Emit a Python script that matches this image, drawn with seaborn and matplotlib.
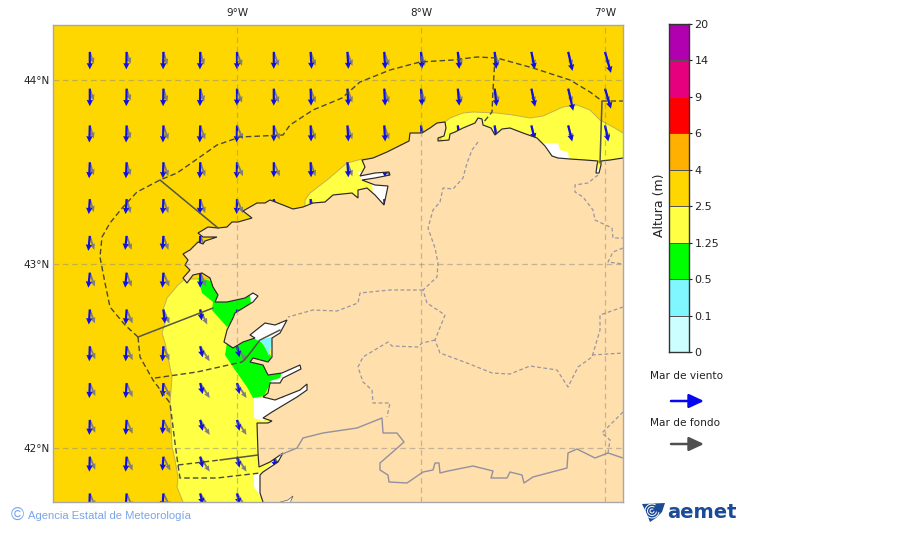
import numpy as np
import pandas as pd
import matplotlib
matplotlib.use("Agg")
import matplotlib.pyplot as plt
from matplotlib.colors import ListedColormap
from matplotlib.patches import Polygon
import seaborn as sns

# ---- data -------------------------------------------------------------
level_labels = ['0', '0.1', '0.5', '1.25', '2.5', '4', '6', '9', '14', '20']
level_colors = ['#CCFFFF', '#80F6FF', '#00FF00', '#FFFF44', '#FFD700',
                '#FFB000', '#FF0000', '#E6007E', '#B000B0']
lon_ticks = [-9, -8, -7]
lon_labels = ['9°W', '8°W', '7°W']
lat_ticks = [42, 43, 44]
lat_labels = ['42°N', '43°N', '44°N']

arrow_lons = [-9.8, -9.6, -9.4, -9.2, -9.0, -8.8, -8.6, -8.4, -8.2, -8.0, -7.8, -7.6, -7.4, -7.2, -7.0]
arrow_lats = [44.15, 43.95, 43.75, 43.55, 43.35, 43.15, 42.95, 42.75, 42.55, 42.35, 42.15, 41.95, 41.75]

# arrow components, digitised map units (184 per degree)
wind_east = [
 [0, -.3, -.3, -.3, 0, 0, 1, 1, 1, 1, 1.5, 1.7, 3.3, 4.3, 6],
 [0, -.3, -.3, -.3, 0, 0, .5, 1, 1, 1, 1.5, 2, 3.7, 5, 6],
 [-.5, -.5, -.5, -.5, -.3, 0, .5, 1, 1, 1, 1.5, 2, 3.3, 4, 3.3],
 [-.7, -.7, -.5, -.5, -.3, 0, .5, 1, 1, 1, 1, 1, 2, 3, 3],
 [-1, -1, -.7, -.5, -.3, 0, .5, 1, 1, 1, 1, 1, 2, 2, 2],
 [-1.5, -1.5, -1, -.7, 0, 0, 1, 1, 1, 1, 1, 1, 1, 1, 1],
 [-1.5, -1.5, -1, 0, 0, 0, 1, 1, 1, 1, 1, 1, 1, 1, 1],
 [-1, -1, 1.5, 1.5, 0, 0, 1, 1, 1, 1, 1, 1, 1, 1, 1],
 [-.5, -1, -1, 2.5, 2.5, 2, 1, 1, 1, 1, 1, 1, 1, 1, 1],
 [-.5, -1, -1, 2.5, 2.5, 2, 1, 1, 1, 1, 1, 1, 1, 1, 1],
 [-.5, -1, -1, 2.5, 2.5, 2, 1, 1, 1, 1, 1, 1, 1, 1, 1],
 [-.5, -1, -1, 2.5, 2.5, 2, 1, 1, 1, 1, 1, 1, 1, 1, 1],
 [-.5, -1, -1, 2.5, 2.5, 2, 1, 1, 1, 1, 1, 1, 1, 1, 1],
]
wind_south = [
 [17.5, 17.5, 17.5, 17.5, 17.5, 17, 17, 17, 17, 17, 17, 17, 17.5, 19, 21],
 [17.5, 17.5, 17.5, 17.5, 17, 17, 17, 17, 17, 17, 17, 17.5, 18, 22, 20],
 [17, 17, 17, 17, 17, 16, 16, 16, 16, 16, 16, 16, 14, 16, 16],
 [16, 16, 16, 16, 16, 15, 15, 15, 15, 15, 15, 15, 15, 15, 15],
 [15, 15, 15, 15, 15, 15, 15, 15, 15, 15, 15, 15, 15, 15, 15],
 [15, 14, 14, 15, 15, 15, 15, 15, 15, 15, 15, 15, 15, 15, 15],
 [15, 15, 15, 15, 15, 15, 15, 15, 15, 15, 15, 15, 15, 15, 15],
 [15, 15, 14, 11, 11, 15, 15, 15, 15, 15, 15, 15, 15, 15, 15],
 [15, 15, 15, 11, 11, 11, 15, 15, 15, 15, 15, 15, 15, 15, 15],
 [15, 15, 14, 11, 11, 11, 15, 15, 15, 15, 15, 15, 15, 15, 15],
 [15, 15, 14, 11, 11, 11, 15, 15, 15, 15, 15, 15, 15, 15, 15],
 [15, 15, 14, 11, 11, 11, 15, 15, 15, 15, 15, 15, 15, 15, 15],
 [15, 15, 14, 11, 11, 11, 15, 15, 15, 15, 15, 15, 15, 15, 15],
]
swell_east = [
 [4, 4, 4, 4, 5, 5, 5, 5, 5, 4, 4, 4, 3.5, 4, 4],
 [4, 4, 4, 4, 5, 5, 5, 5, 5, 4, 4, 4, 3.5, 4, 4],
 [4, 4, 5, 5, 6, 6, 5, 5, 5, 4, 4, 4, 3.5, 4, 4],
 [4, 4, 5, 5, 6, 6, 5, 5, 5, 4, 4, 4, 3.5, 4, 4],
 [4, 4, 5, 5, 6, 6, 5, 5, 5, 4, 4, 4, 4, 4, 4],
 [4.5, 5, 5, 6, 6, 6, 5, 5, 5, 4, 4, 4, 4, 4, 4],
 [5, 5, 6, 6, 6, 6, 5, 5, 5, 4, 4, 4, 4, 4, 4],
 [5, 6, 6, 7, 7, 6, 5, 5, 5, 4, 4, 4, 4, 4, 4],
 [5.5, 6, 6, 9.5, 9.5, 9, 5, 5, 5, 4, 4, 4, 4, 4, 4],
 [5.5, 6, 7, 9.5, 9.5, 9.5, 5, 5, 5, 4, 4, 4, 4, 4, 4],
 [5.5, 6, 7, 9.5, 9.5, 9.5, 5, 5, 5, 4, 4, 4, 4, 4, 4],
 [5.5, 6, 7, 9.5, 9.5, 9.5, 5, 5, 5, 4, 4, 4, 4, 4, 4],
 [5.5, 6, 7, 9.5, 9.5, 9.5, 5, 5, 5, 4, 4, 4, 4, 4, 4],
]
swell_south = [
 [12, 12, 13, 13, 14, 14, 14, 14, 14, 14, 14, 14, 14, 14, 14],
 [12, 12, 13, 13, 14, 14, 14, 14, 14, 14, 14, 14, 14, 14, 14],
 [13, 13, 14, 14, 14, 14, 14, 14, 14, 14, 14, 14, 14, 14, 14],
 [13, 13, 14, 14, 14, 14, 14, 14, 14, 14, 14, 14, 14, 14, 14],
 [13, 14, 14, 14, 14, 14, 14, 14, 14, 14, 14, 14, 14, 14, 14],
 [14, 14, 14, 14, 14, 14, 14, 14, 14, 14, 14, 14, 14, 14, 14],
 [14, 14, 14, 14, 14, 14, 14, 14, 14, 14, 14, 14, 14, 14, 14],
 [14, 14, 14, 15, 15, 15, 14, 14, 14, 14, 14, 14, 14, 14, 14],
 [13, 14, 14, 15, 15, 15, 14, 14, 14, 14, 14, 14, 14, 14, 14],
 [13, 14, 14, 15, 15, 15, 14, 14, 14, 14, 14, 14, 14, 14, 14],
 [13, 14, 14, 15, 15, 15, 14, 14, 14, 14, 14, 14, 14, 14, 14],
 [13, 14, 14, 15, 15, 15, 14, 14, 14, 14, 14, 14, 14, 14, 14],
 [13, 14, 14, 15, 15, 15, 14, 14, 14, 14, 14, 14, 14, 14, 14],
]

land = [(640,160),(623,158),(610,160),(601,161),(601,165),(599,173),(596,173),(597,165),(598,161),(585,160),
 (570,159),(558,158),(552,156),(545,146),(537,138),(523,133),(510,128),(502,129),(495,135),(491,128),
 (483,125),(482,119),(478,118),(475,123),(463,128),(455,132),(450,134),(449,140),(438,141),(438,138),
 (444,136),(446,128),(445,122),(437,123),(430,128),(422,133),(410,133),(409,141),(405,143),(387,152),
 (373,158),(362,160),(365,167),(360,176),(375,173),(389,172),(390,175),(375,178),(362,180),(375,185),
 (388,186),(384,205),(375,195),(367,188),(358,190),(358,198),(352,193),(333,195),(325,202),(313,203),
 (303,207),(293,209),(283,205),(270,200),(265,203),(257,203),(243,211),(252,218),(238,222),(232,222),
 (227,227),(218,228),(208,227),(198,233),(203,237),(217,237),(205,241),(203,244),(198,242),(195,245),
 (190,250),(183,254),(188,260),(185,265),(190,270),(183,278),(187,283),(193,275),(202,273),(210,278),
 (213,287),(218,295),(215,302),(227,302),(245,298),(253,293),(258,296),(253,302),(235,313),(233,318),
 (227,330),(224,342),(233,348),(243,342),(255,338),(250,335),(265,323),(275,325),(287,320),(280,333),
 (272,338),(272,357),(268,362),(253,358),(250,362),(263,365),(268,375),(282,373),(300,365),(301,369),
 (283,378),(280,383),(270,383),(268,393),(263,397),(275,400),(300,390),(307,384),(307,390),(297,397),
 (272,412),(263,418),(272,421),(268,423),(257,423),(258,453),(259,467),(270,462),(283,453),(278,462),
 (263,472),(260,475),(260,493),(263,502),(265,520),(640,520)]
yellow_west = [(185,279),(178,285),(167,298),(163,310),(165,323),(162,333),(165,343),(172,377),(170,403),
 (172,447),(175,460),(178,477),(177,487),(183,502),(185,520),(310,520),(310,279)]
yellow_north = [(441,125),(450,118),(463,113),(473,112),(497,113),(513,115),(530,118),(543,116),(563,107),
 (577,105),(590,110),(600,120),(613,127),(623,133),(640,140),(640,175),(441,175)]
yellow_cedeira = [(305,200),(310,193),(327,180),(347,163),(362,159),(395,165),(395,212),(305,212)]
green_a = [(198,278),(202,293),(213,302),(212,310),(227,327),(238,316),(262,296),(230,285)]
green_b = [(227,343),(225,355),(235,370),(247,387),(253,398),(264,396),(270,384),(283,378),(283,372),
 (270,362),(271,356),(262,343),(255,337),(240,338)]
cyan_a = [(257,340),(273,337),(269,356),(263,343)]
white_patches = [
 [(543,143),(558,143),(560,150),(568,152),(569,159),(552,159),(545,147)],
 [(250,336),(265,322),(288,318),(278,338),(257,340)],
 [(280,378),(282,372),(300,364),(302,369),(283,380),(272,385),(270,381)],
 [(254,398),(254,418),(263,421),(275,410),(300,398),(310,384),(302,385),(275,398),(268,393),(261,398)],
 [(254,475),(260,472),(261,497),(254,487)],
 [(264,471),(283,452),(279,463),(264,474)],
 [(358,172),(390,171),(391,176),(362,181)],
 [(372,184),(389,185),(385,206),(373,194)],
 [(250,295),(258,292),(259,300),(251,303)],
 [(595,174),(602,163),(601,174)],
]
white_south = [(277,503),(288,500),(293,496),(290,503)]

zone_outer = [(138,337),(125,325),(110,307),(105,283),(100,257),(102,237),(110,223),(123,207),(137,192),
 (160,180),(177,173),(200,157),(217,145),(240,137),(283,135),(290,125),(313,110),(342,98),(360,82),
 (390,70),(420,62),(453,60),(477,57),(497,58),(533,68),(570,80),(590,92),(602,101),(623,101)]
zone_south = [(138,337),(140,357),(153,380),(170,403),(175,443),(178,465),(180,478),(217,478),(260,473)]
zone_lugo = [(495,58),(493,90),(492,112),(483,123)]
zone_mid = [(155,378),(197,372),(242,362)]
zone_low = [(178,465),(220,460)]
solid_lines = [
 [(160,180),(218,228)],
 [(138,337),(213,308)],
 [(242,362),(247,357),(260,340),(280,330)],
 [(220,460),(258,455)],
 [(602,101),(600,163)],
]
inland = [
 [(478,142),(472,150),(467,163),(463,178),(453,189),(443,188),(440,202),(433,210),(428,228),(435,248),
  (438,263),(437,277),(423,290),(427,303),(445,315),(435,340),(440,353),(467,363),(492,373),(510,374),
  (530,366),(557,370),(568,387),(578,367),(592,357),(600,330),(600,315),(623,307)],
 [(423,290),(390,290),(360,293),(358,303),(337,311),(313,310),(288,317)],
 [(435,340),(422,343),(418,347),(392,346),(388,342),(363,357),(358,367),(363,382),(372,390),(373,403),
  (390,403),(387,417)],
 [(598,175),(588,183),(575,185),(575,192),(583,197),(593,210),(595,220),(612,228),(613,238),(623,238)],
 [(623,248),(613,252),(608,262),(623,264)],
 [(592,355),(623,353)],
 [(623,412),(602,433),(610,440),(608,453)],
]
portugal = [(280,455),(297,448),(303,438),(323,433),(357,428),(382,418),(383,433),(397,433),(404,442),(395,450),
 (380,463),(380,470),(388,475),(389,482),(407,483),(423,472),(433,470),(435,463),(439,463),(440,473),
 (448,471),(473,466),(493,471),(491,478),(507,478),(510,472),(522,475),(524,483),(533,477),(567,468),
 (568,453),(577,449),(595,458),(608,453),(623,458)]

# ---- map scale ----------------------------------------------------------
UNITS = 184.0
def geo(points):
    p = np.asarray(points, dtype=float)
    return np.column_stack([-9 + (p[:, 0] - 237) / UNITS, 44 - (p[:, 1] - 79.5) / UNITS])

sns.set_style("white")
plt.rcParams['font.family'] = ['DejaVu Sans']
fig = plt.figure(figsize=(9, 5.33), dpi=100)
ax = fig.add_axes([53/900, 1-502/533, 570/900, 477/533])
ax.set_facecolor(level_colors[4])

def fill(points, color, z, edge='none', lw=0):
    ax.add_patch(Polygon(geo(points), closed=True, facecolor=color, edgecolor=edge, linewidth=lw, zorder=z))

sea_edge = '#C4B050'
for poly in (yellow_west, yellow_north, yellow_cedeira):
    fill(poly, level_colors[3], 1, sea_edge, 0.7)
for poly in (green_a, green_b):
    fill(poly, level_colors[2], 1.1)
for poly in white_patches:
    fill(poly, 'white', 1.15 if poly is white_patches[1] else 1.3)
fill(cyan_a, level_colors[1], 1.25)

X, Y = np.meshgrid(arrow_lons, arrow_lats)
ax.quiver(X, Y, np.array(swell_east)/UNITS, -np.array(swell_south)/UNITS, color='#7E7E7E',
          angles='xy', scale_units='xy', scale=1, units='dots', width=1.9,
          headwidth=2.8, headlength=3.2, headaxislength=3, zorder=1.4)
ax.quiver(X, Y, np.array(wind_east)/UNITS, -np.array(wind_south)/UNITS, color='#1010E0',
          angles='xy', scale_units='xy', scale=1, units='dots', width=2.2,
          headwidth=2.9, headlength=2.9, headaxislength=2.7, zorder=1.5)

fill(land, '#FFDFAC', 2, '#2A2A2A', 0.85)
fill(white_south, 'white', 2.05, '#555555', 0.5)

def trace(points, color, lw, ls, z):
    g = geo(points)
    d = pd.DataFrame({'lon': g[:, 0], 'lat': g[:, 1]})
    sns.lineplot(data=d, x='lon', y='lat', sort=False, estimator=None, color=color,
                 linewidth=lw, linestyle=ls, ax=ax, zorder=z, legend=False)

for path in (zone_outer, zone_south, zone_lugo, zone_mid, zone_low):
    trace(path, '#4A4A3A', 1.0, (0, (4, 2.2)), 2.3)
for path in solid_lines:
    trace(path, '#555548', 1.1, '-', 2.3)
for path in inland:
    trace(path, '#9A96A0', 0.9, (0, (3, 2)), 2.2)
trace(portugal, '#9490A0', 1.0, '-', 2.2)

ax.set_xlim(-10.0, -9 + (623-237)/UNITS)
ax.set_ylim(44 - (502-79.5)/UNITS, 44 + (79.5-25)/UNITS)
ax.set_xticks(lon_ticks, lon_labels)
ax.set_yticks(lat_ticks, lat_labels)
ax.set_xlabel(''); ax.set_ylabel('')
ax.xaxis.tick_top()
ax.tick_params(length=0, labelsize=7.5, colors='#222222')
ax.tick_params(axis='x', pad=5)
ax.tick_params(axis='y', pad=2.5)
ax.set_axisbelow(False)
ax.grid(True, color='#888888', alpha=0.5, linewidth=0.9, linestyle=(0, (4.5, 3)))
for s in ax.spines.values():
    s.set_color('#A8A8A8'); s.set_linewidth(1.0); s.set_zorder(5)

# ---- colour scale --------------------------------------------------------
cax = fig.add_axes([669/900, 1-352/533, 20/900, 328/533])
cells = pd.DataFrame({'altura': list(range(len(level_colors)))[::-1]})
sns.heatmap(cells, ax=cax, cmap=ListedColormap(level_colors), vmin=-0.5, vmax=8.5, cbar=False,
            linewidths=0.7, linecolor='#555555', xticklabels=False, yticklabels=False)
cax.set_yticks(np.arange(len(level_labels)), level_labels[::-1], rotation=0)
cax.yaxis.tick_right()
cax.tick_params(axis='y', length=2.5, width=0.8, labelsize=8, pad=1.5, colors='#222222')
cax.set_xticks([])
cax.set_ylabel('')
for s in cax.spines.values():
    s.set_visible(True); s.set_color('#333333'); s.set_linewidth(1.0)

# ---- overlay: key, footer, logo -------------------------------------------
top = fig.add_axes([0, 0, 1, 1], facecolor='none')
top.set_xlim(0, 900); top.set_ylim(533, 0); top.axis('off')
top.text(660, 205, 'Altura (m)', fontsize=9, rotation=90, ha='center', va='center', color='#222222')
top.text(686.5, 376, 'Mar de viento', fontsize=7.6, ha='center', va='center', color='#222222')
top.text(685.5, 423, 'Mar de fondo', fontsize=7.6, ha='center', va='center', color='#222222')
top.annotate('', xy=(704, 401), xytext=(671, 401),
             arrowprops=dict(arrowstyle='-|>,head_length=0.9,head_width=0.42', color='#0808F0', lw=1.8,
                             shrinkA=0, shrinkB=0))
top.annotate('', xy=(704, 444), xytext=(671, 444),
             arrowprops=dict(arrowstyle='-|>,head_length=0.9,head_width=0.42', color='#505050', lw=1.8,
                             shrinkA=0, shrinkB=0))
top.text(17, 515.5, '©', fontsize=13, ha='center', va='center', color='#7AA5EA', family='Liberation Sans')
top.text(28, 516, 'Agencia Estatal de Meteorología', fontsize=8.1, ha='left', va='center',
         color='#7AA5EA', family='Liberation Sans')
top.text(667, 512.5, 'aemet', fontsize=14, fontweight='bold', ha='left', va='center',
         color='#1B4A97', family='DejaVu Sans')
top.add_patch(Polygon([(642, 504), (665, 503), (662, 512), (656, 518), (650, 522), (646, 512)],
                      closed=True, facecolor='#1B4A97', edgecolor='none'))
for r in (2, 4.5, 7):
    t = np.linspace(0.2, 5.2, 40)
    top.plot(652 + r*np.cos(t), 511 + r*np.sin(t), color='white', lw=0.7)

fig.savefig('out.png', dpi=100)
